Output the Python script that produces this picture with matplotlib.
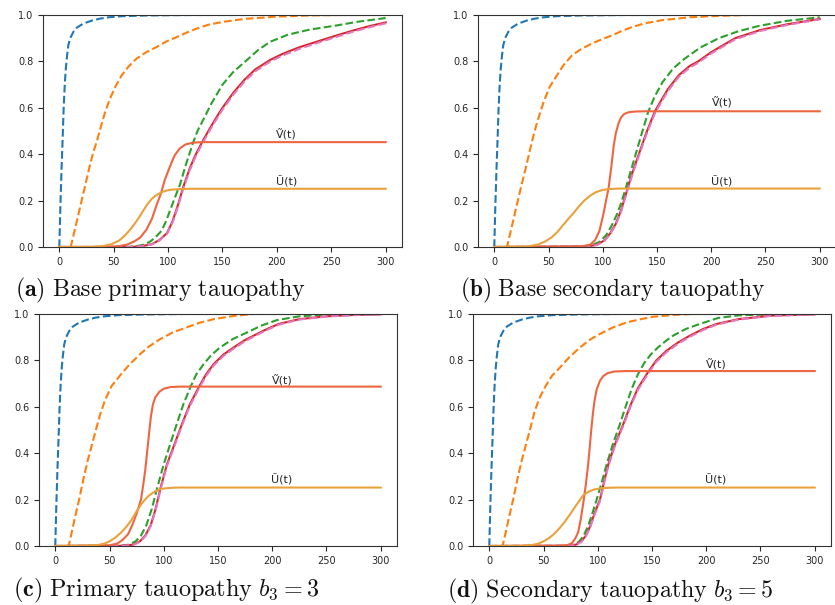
import matplotlib
matplotlib.use("Agg")
import matplotlib.pyplot as plt

plt.rcParams["mathtext.fontset"] = "cm"

# ---------------------------------------------------------------- data
X_TICKS = [0, 50, 100, 150, 200, 250, 300]
Y_TICKS = [0.0, 0.2, 0.4, 0.6, 0.8, 1.0]

CAPTIONS = [
    r"$\mathbf{(a)}\ \mathrm{Base\ primary\ tauopathy}$",
    r"$\mathbf{(b)}\ \mathrm{Base\ secondary\ tauopathy}$",
    r"$\mathbf{(c)}\ \mathrm{Primary\ tauopathy}\ b_3 = 3$",
    r"$\mathbf{(d)}\ \mathrm{Secondary\ tauopathy}\ b_3 = 5$",
]
V_LABEL = "Ṽ(t)"
U_LABEL = "Ũ(t)"

# fast seeding curve (same in every panel)
blue_t = [0, 1, 2, 3, 4, 5, 6, 7, 8.3, 10, 12.9, 16, 22, 30, 37, 45, 58, 80, 120, 300]
blue_v = [0, 0.18, 0.33, 0.46, 0.6, 0.7, 0.77, 0.82, 0.87, 0.9, 0.927, 0.945, 0.963, 0.976,
          0.984, 0.99, 0.995, 0.998, 1.0, 1.0]

# ---- (a) base primary tauopathy
a_orange_t = [0, 10.5, 13, 16, 20, 24, 28, 31, 34.3, 38, 42, 46.6, 52, 57.3, 64, 71, 80, 89.5,
              98, 108, 117, 126, 137, 150, 170, 200, 230, 260, 300]
a_orange_v = [0, 0, 0.05, 0.11, 0.19, 0.27, 0.35, 0.405, 0.453, 0.515, 0.58, 0.64, 0.695, 0.74,
              0.78, 0.812, 0.84, 0.862, 0.885, 0.905, 0.924, 0.941, 0.958, 0.97, 0.983, 0.993,
              0.998, 1.0, 1.0]
a_green_t = [0, 60, 70, 78, 84, 89, 94, 98, 102, 106, 111, 116, 123, 127, 133, 140, 150, 160,
             171, 183, 194, 210, 230, 255, 273, 300]
a_green_v = [0, 0, 0.003, 0.01, 0.025, 0.045, 0.07, 0.11, 0.16, 0.21, 0.27, 0.35, 0.45, 0.5,
             0.555, 0.62, 0.7, 0.755, 0.8, 0.85, 0.885, 0.915, 0.937, 0.955, 0.97, 0.987]
a_red_t = [0, 65, 75, 85, 92, 99, 104, 109, 114, 120, 125, 131, 137, 143, 150, 160, 170, 180,
           193.7, 205, 220, 240, 255, 270, 285, 300]
a_red_v = [0, 0, 0.003, 0.012, 0.03, 0.06, 0.11, 0.18, 0.26, 0.34, 0.395, 0.45, 0.5, 0.548,
           0.6, 0.665, 0.72, 0.765, 0.806, 0.832, 0.86, 0.89, 0.912, 0.933, 0.952, 0.968]
a_pink_v = [0, 0, 0.003, 0.011, 0.028, 0.057, 0.105, 0.173, 0.252, 0.332, 0.387, 0.442, 0.492,
            0.54, 0.592, 0.657, 0.712, 0.757, 0.799, 0.825, 0.853, 0.884, 0.906, 0.928, 0.947,
            0.964]
a_vt_t = [0, 40, 55, 62, 68, 74, 80, 85, 89, 93.5, 97, 101.7, 106, 111, 116, 122, 130, 140, 300]
a_vt_v = [0, 0, 0.004, 0.01, 0.022, 0.039, 0.074, 0.12, 0.175, 0.232, 0.29, 0.347, 0.395,
          0.426, 0.442, 0.449, 0.452, 0.452, 0.452]
a_ut_t = [0, 30, 40, 48, 55, 60, 65, 70, 75, 80, 85, 90, 95, 100, 105, 112, 120, 300]
a_ut_v = [0, 0.001, 0.004, 0.012, 0.028, 0.048, 0.074, 0.105, 0.14, 0.178, 0.208, 0.226,
          0.238, 0.245, 0.248, 0.25, 0.251, 0.251]

# ---- (b) base secondary tauopathy
b_orange_t = [0, 11.7, 14, 17, 21, 25, 29, 32, 34.7, 39, 45.5, 51, 57.8, 64, 71.6, 80, 90, 99,
              108.5, 118, 127, 137.7, 155, 180, 205, 235, 300]
b_orange_v = [0, 0, 0.045, 0.105, 0.185, 0.265, 0.34, 0.4, 0.453, 0.53, 0.625, 0.69, 0.74,
              0.785, 0.826, 0.853, 0.877, 0.895, 0.912, 0.932, 0.948, 0.963, 0.978, 0.99, 0.996,
              1.0, 1.0]
b_green_t = [0, 80, 90, 97, 103, 108, 113, 117, 121, 126, 131, 136, 142, 148, 155, 165, 175,
             190, 207, 225, 244, 270, 300]
b_green_v = [0, 0.002, 0.008, 0.022, 0.05, 0.09, 0.14, 0.19, 0.25, 0.33, 0.41, 0.49, 0.584,
             0.65, 0.71, 0.77, 0.81, 0.86, 0.9, 0.93, 0.953, 0.975, 0.99]
b_red_t = [0, 85, 95, 102, 107, 112, 117, 123, 128, 134, 140, 148, 153, 160, 170, 180, 188,
           200, 222, 245, 270, 300]
b_red_v = [0, 0.002, 0.01, 0.03, 0.06, 0.1, 0.16, 0.254, 0.33, 0.41, 0.49, 0.584, 0.625,
           0.68, 0.74, 0.78, 0.8, 0.84, 0.9, 0.935, 0.96, 0.983]
b_pink_v = [0, 0.002, 0.009, 0.028, 0.057, 0.096, 0.154, 0.247, 0.322, 0.402, 0.482, 0.576,
            0.617, 0.672, 0.733, 0.773, 0.794, 0.834, 0.895, 0.931, 0.957, 0.981]
b_vt_t = [0, 80, 88.5, 93, 97, 100.8, 103, 105.4, 108, 110, 112, 114.6, 117, 120, 124, 130,
          140, 300]
b_vt_v = [0, 0.002, 0.01, 0.03, 0.07, 0.146, 0.2, 0.254, 0.35, 0.433, 0.49, 0.534, 0.56,
          0.574, 0.581, 0.584, 0.585, 0.585]
b_ut_t = [0, 30, 40, 47, 53, 58, 63, 68, 73, 78, 83, 88.5, 94, 100, 106, 115, 300]
b_ut_v = [0, 0.002, 0.01, 0.024, 0.042, 0.064, 0.092, 0.12, 0.146, 0.175, 0.2, 0.222, 0.237,
          0.246, 0.25, 0.252, 0.252]

# ---- (c) primary tauopathy, b3 = 3
c_orange_t = [0, 12.3, 15, 18, 22, 26, 30, 34, 38, 41.5, 46, 52, 60, 68, 78.4, 87, 96.8, 108,
              121.5, 133, 146, 165, 183, 300]
c_orange_v = [0, 0, 0.055, 0.12, 0.2, 0.29, 0.37, 0.44, 0.51, 0.569, 0.63, 0.69, 0.737, 0.78,
              0.828, 0.862, 0.892, 0.92, 0.943, 0.962, 0.978, 0.992, 1.0, 1.0]
c_green_t = [0, 60, 68, 74, 79, 84, 89, 94, 100, 106, 112, 118, 124.5, 130, 136.8, 144, 152,
             164, 177, 190, 204.5, 225, 250, 300]
c_green_v = [0, 0.001, 0.006, 0.02, 0.045, 0.09, 0.16, 0.251, 0.353, 0.44, 0.526, 0.61, 0.684,
             0.74, 0.784, 0.824, 0.856, 0.893, 0.921, 0.95, 0.974, 0.99, 0.998, 1.0]
c_red_t = [0, 62, 72, 78, 83, 88, 92.5, 97, 103, 110, 116.8, 124, 132.2, 139, 146, 155, 164.5,
           175, 186, 196, 206, 225, 250, 275, 300]
c_red_v = [0, 0.001, 0.006, 0.02, 0.045, 0.09, 0.16, 0.25, 0.353, 0.44, 0.526, 0.61, 0.684,
           0.74, 0.784, 0.825, 0.856, 0.888, 0.914, 0.937, 0.957, 0.978, 0.99, 0.996, 0.999]
c_pink_v = [0, 0.001, 0.005, 0.018, 0.042, 0.086, 0.154, 0.243, 0.346, 0.433, 0.519, 0.603,
            0.677, 0.733, 0.778, 0.819, 0.851, 0.883, 0.91, 0.933, 0.954, 0.976, 0.989, 0.995,
            0.998]
c_vt_t = [0, 50, 57, 62, 67, 71, 75, 79, 81, 83, 85, 86.8, 88.2, 90, 92.2, 96, 100, 106, 115,
          300]
c_vt_v = [0, 0.003, 0.01, 0.026, 0.05, 0.09, 0.14, 0.2, 0.26, 0.33, 0.42, 0.5, 0.56, 0.61,
          0.641, 0.665, 0.678, 0.685, 0.687, 0.687]
c_ut_t = [0, 30, 40, 45, 50, 55, 60, 65, 70, 75, 80, 85, 90, 95, 100, 108, 115, 300]
c_ut_v = [0, 0.001, 0.005, 0.01, 0.02, 0.035, 0.055, 0.08, 0.11, 0.15, 0.185, 0.212, 0.23,
          0.242, 0.248, 0.251, 0.252, 0.252]

# ---- (d) secondary tauopathy, b3 = 5
d_orange_t = [0, 12.3, 15, 18, 22, 26, 30, 34, 38, 41.5, 46, 52, 58, 65.3, 74, 83.7, 92, 102,
              114, 126.7, 140, 151, 170, 188, 300]
d_orange_v = [0, 0, 0.055, 0.12, 0.2, 0.29, 0.37, 0.44, 0.51, 0.575, 0.635, 0.69, 0.735, 0.77,
              0.815, 0.856, 0.887, 0.914, 0.942, 0.964, 0.978, 0.988, 0.996, 1.0, 1.0]
d_green_t = [0, 70, 78, 83, 87, 91, 95, 99, 104, 108.3, 114, 120.5, 126, 131.5, 137, 143, 149,
             156, 163, 169.6, 181, 194, 211, 230, 260, 300]
d_green_v = [0, 0.001, 0.006, 0.02, 0.045, 0.085, 0.14, 0.2, 0.28, 0.353, 0.44, 0.526, 0.605,
             0.68, 0.74, 0.79, 0.826, 0.858, 0.885, 0.907, 0.935, 0.957, 0.983, 0.994, 0.999,
             1.0]
d_red_t = [0, 72, 80, 85, 89, 93, 97, 102, 106, 109.8, 116, 123.6, 130, 137, 145.7, 154, 163.5,
           174, 185, 197, 209.5, 230, 260, 300]
d_red_v = [0, 0.001, 0.006, 0.02, 0.045, 0.085, 0.14, 0.2, 0.28, 0.353, 0.44, 0.526, 0.605,
           0.68, 0.745, 0.8, 0.842, 0.877, 0.907, 0.935, 0.957, 0.978, 0.993, 0.999]
d_pink_v = [0, 0.001, 0.005, 0.018, 0.042, 0.081, 0.134, 0.193, 0.273, 0.346, 0.433, 0.519,
            0.598, 0.673, 0.738, 0.794, 0.836, 0.872, 0.902, 0.931, 0.954, 0.976, 0.992, 0.998]
d_vt_t = [0, 65, 72, 76, 79, 82, 84.5, 86.8, 89, 91, 92.5, 94, 95.5, 97, 99, 102, 105, 109,
          115, 125, 300]
d_vt_v = [0, 0.001, 0.004, 0.012, 0.03, 0.06, 0.12, 0.19, 0.265, 0.345, 0.42, 0.5, 0.57, 0.625,
          0.675, 0.712, 0.732, 0.745, 0.752, 0.754, 0.754]
d_ut_t = [0, 30, 40, 45, 50, 55, 60, 65, 70, 75, 80, 86.8, 92, 97, 103, 110, 118, 300]
d_ut_v = [0, 0.001, 0.005, 0.01, 0.02, 0.034, 0.053, 0.078, 0.107, 0.14, 0.175, 0.22, 0.235,
          0.244, 0.249, 0.251, 0.252, 0.252]

# label anchor (time, height) for the Ṽ / Ũ annotations
LABEL_T = [209, 210, 209, 209]
V_LABEL_Y = [0.483, 0.62, 0.713, 0.783]
U_LABEL_Y = [0.283, 0.283, 0.285, 0.285]

panels = [
    (a_orange_t, a_orange_v, a_green_t, a_green_v, a_red_t, a_red_v, a_pink_v,
     a_vt_t, a_vt_v, a_ut_t, a_ut_v),
    (b_orange_t, b_orange_v, b_green_t, b_green_v, b_red_t, b_red_v, b_pink_v,
     b_vt_t, b_vt_v, b_ut_t, b_ut_v),
    (c_orange_t, c_orange_v, c_green_t, c_green_v, c_red_t, c_red_v, c_pink_v,
     c_vt_t, c_vt_v, c_ut_t, c_ut_v),
    (d_orange_t, d_orange_v, d_green_t, d_green_v, d_red_t, d_red_v, d_pink_v,
     d_vt_t, d_vt_v, d_ut_t, d_ut_v),
]

# ---------------------------------------------------------------- layout
W, H = 835, 605
fig = plt.figure(figsize=(W / 100, H / 100), dpi=100)

# axes boxes in pixels: left, top, right, bottom
AX_BOX = [(43, 15, 402, 247), (478, 15, 836, 247),
          (39, 314, 397, 546), (473, 314, 831, 546)]
CAP_POS = [(15, 290), (460, 290), (13, 590), (447, 591)]
CAP_SIZE = [17.2, 16.8, 17.4, 17.2]

C_BLUE, C_ORANGE, C_GREEN = "#1f77b4", "#ff7f0e", "#2ca02c"
C_RED, C_PINK = "#d62728", "#e377c2"
C_VT, C_UT = "#ef6540", "#e9a23b"
TXT = "#262626"

for i, (ot, ov, gt, gv, rt, rv, pv, vt, vv, ut, uv) in enumerate(panels):
    l, t, r, b = AX_BOX[i]
    ax = fig.add_axes([l / W, 1 - b / H, (r - l) / W, (b - t) / H])
    ax.plot(blue_t, blue_v, ls="--", color=C_BLUE, lw=1.5)
    ax.plot(ot, ov, ls="--", color=C_ORANGE, lw=1.5)
    ax.plot(gt, gv, ls="--", color=C_GREEN, lw=1.5)
    ax.plot(rt, rv, ls="-", color=C_RED, lw=1.5)
    ax.plot(rt, pv, ls="--", color=C_PINK, lw=1.5)
    ax.plot(vt, vv, ls="-", color=C_VT, lw=1.5)
    ax.plot(ut, uv, ls="-", color=C_UT, lw=1.5)
    ax.text(LABEL_T[i], V_LABEL_Y[i], V_LABEL, fontsize=8, color=TXT,
            ha="center", va="center")
    ax.text(LABEL_T[i], U_LABEL_Y[i], U_LABEL, fontsize=8, color=TXT,
            ha="center", va="center")
    ax.set_xlim(-15, 315)
    ax.set_ylim(0, 1)
    ax.set_xticks(X_TICKS)
    ax.set_yticks(Y_TICKS)
    ax.set_yticklabels([f"{y:.1f}" for y in Y_TICKS])
    ax.tick_params(labelsize=7, colors=TXT, length=3.5, width=0.8)
    for s in ax.spines.values():
        s.set_color("#333333")
        s.set_linewidth(0.8)

    cx, cy = CAP_POS[i]
    fig.text(cx / W, 1 - cy / H, CAPTIONS[i], fontsize=CAP_SIZE[i], color="#111111",
             ha="left", va="center")

fig.savefig("out.png", dpi=100)
